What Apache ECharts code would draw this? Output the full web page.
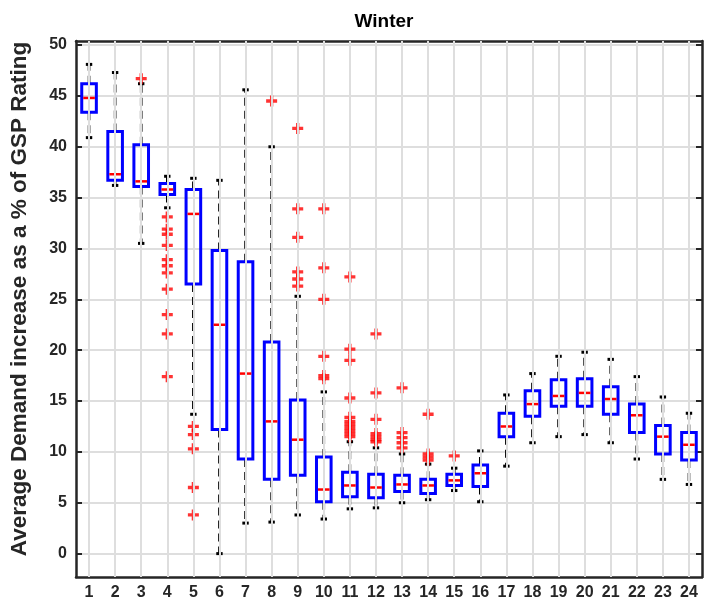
<!DOCTYPE html>
<html><head><meta charset="utf-8">
<script src="https://cdn.jsdelivr.net/npm/echarts@6/dist/echarts.min.js"></script>
<style>html,body{margin:0;padding:0;background:#fff}#c{width:709px;height:608px}</style>
</head><body><div id="c"></div>
<script>
const hours = ['1','2','3','4','5','6','7','8','9','10','11','12','13','14','15','16','17','18','19','20','21','22','23','24'];
const whiskerLow  = [40.9, 36.2, 30.5, 34.0, 13.7, 0.0, 3.0, 3.1, 3.8, 3.4, 4.4, 4.5, 5.0, 5.3, 6.2, 5.1, 8.6, 10.9, 11.5, 11.7, 10.9, 9.3, 7.3, 6.8];
const quart1      = [43.4, 36.7, 36.1, 35.3, 26.5, 12.2, 9.3, 7.3, 7.7, 5.1, 5.6, 5.5, 6.1, 5.9, 6.7, 6.6, 11.5, 13.5, 14.5, 14.5, 13.7, 11.9, 9.8, 9.2];
const medians     = [44.8, 37.3, 36.6, 35.8, 33.4, 22.5, 17.7, 13.0, 11.2, 6.3, 6.7, 6.5, 6.8, 6.7, 7.2, 7.9, 12.5, 14.7, 15.5, 15.8, 15.2, 13.6, 11.5, 10.7];
const quart3      = [46.2, 41.5, 40.2, 36.4, 35.8, 29.8, 28.7, 20.8, 15.1, 9.5, 8.0, 7.8, 7.7, 7.3, 7.8, 8.7, 13.8, 16.0, 17.1, 17.2, 16.4, 14.7, 12.6, 11.9];
const whiskerHigh = [48.1, 47.3, 46.2, 37.1, 36.9, 36.7, 45.6, 40.0, 25.3, 15.9, 11.0, 10.4, 9.8, 8.8, 8.4, 10.1, 15.6, 17.7, 19.4, 19.8, 19.1, 17.4, 15.4, 13.8];
const outliers = [
  [], [], [46.7],
  [33.1, 31.9, 31.4, 30.3, 28.9, 28.3, 27.6, 26.0, 23.5, 21.6, 17.4],
  [12.5, 11.7, 10.3, 6.5, 3.8],
  [], [], [44.5],
  [41.8, 33.9, 31.1, 27.7, 27.0, 26.3],
  [33.9, 28.1, 25.0, 19.4, 17.5, 17.2],
  [27.2, 20.1, 19.0, 15.3, 13.4, 13.0, 12.7, 12.4, 12.1, 11.8, 11.5],
  [21.6, 15.8, 13.2, 11.8, 11.5, 11.2, 11.0],
  [16.3, 11.9, 11.4, 10.9, 10.4],
  [13.7, 9.8, 9.5, 9.2],
  [9.6],
  [], [], [], [], [], [], [], [], []
];
const yTicks = [0, 5, 10, 15, 20, 25, 30, 35, 40, 45, 50];

const boxData = hours.map((h, i) => [i, whiskerLow[i], quart1[i], medians[i], quart3[i], whiskerHigh[i]]);
const outlierData = [];
outliers.forEach((arr, i) => arr.forEach(v => outlierData.push([i, v])));

const ink = '#262626';
const gridCol = '#dedede';
const FONT = 'Liberation Sans, Arial, sans-serif';

const chart = echarts.init(document.getElementById('c'));
chart.setOption({
  backgroundColor: '#fff',
  animation: false,
  title: {
    text: 'Winter', left: 379, top: 7, textAlign: 'center',
    textStyle: { fontSize: 19, fontWeight: 'bold', color: '#000', fontFamily: FONT }
  },
  grid: { left: 73, right: 7, top: 41, bottom: 31, containLabel: false },
  xAxis: [{
    type: 'category', data: hours, position: 'bottom', boundaryGap: true,
    axisLine: { show: true, onZero: false, lineStyle: { color: ink, width: 2.5 } },
    axisTick: { show: true, inside: true, alignWithLabel: true, length: 6, lineStyle: { color: ink, width: 2 } },
    axisLabel: { color: ink, fontSize: 16, fontWeight: 'bold', fontFamily: FONT, margin: 8, interval: 0 },
    splitLine: { show: false }
  }, {
    type: 'category', data: hours, position: 'top', boundaryGap: true,
    axisLine: { show: true, onZero: false, lineStyle: { color: ink, width: 2.5 } },
    axisTick: { show: true, inside: true, alignWithLabel: true, length: 6, lineStyle: { color: ink, width: 2 } },
    axisLabel: { show: false }, splitLine: { show: false }
  }],
  yAxis: [{
    type: 'value', min: -2.3, max: 50.4, splitNumber: 10, position: 'left',
    name: 'Average Demand increase as a % of GSP Rating', nameLocation: 'middle', nameGap: 45,
    nameTextStyle: { fontSize: 22.5, fontWeight: 'bold', color: ink, fontFamily: FONT, padding: [0, 0, 0, 20] },
    axisLine: { show: true, onZero: false, lineStyle: { color: ink, width: 2.5 } },
    axisTick: { show: true, inside: true, length: 6, lineStyle: { color: ink, width: 2 },
      customValues: yTicks },
    axisLabel: { color: ink, fontSize: 16, fontWeight: 'bold', fontFamily: FONT, margin: 9,
      customValues: yTicks },
    splitLine: { show: true, lineStyle: { color: gridCol, width: 2 }, customValues: yTicks }
  }, {
    type: 'value', min: -2.3, max: 50.4, splitNumber: 10, position: 'right',
    axisLine: { show: true, onZero: false, lineStyle: { color: ink, width: 2.5 } },
    axisTick: { show: true, inside: true, length: 6, lineStyle: { color: ink, width: 2 },
      customValues: yTicks },
    axisLabel: { show: false }, splitLine: { show: false }
  }],
  series: [{
    type: 'line', data: [], z: 1, silent: true,
    markLine: {
      silent: true, symbol: 'none', animation: false,
      label: { show: false },
      emphasis: { disabled: true },
      lineStyle: { color: gridCol, width: 2, type: 'solid', opacity: 1 },
      data: hours.map(h => ({ xAxis: h }))
    }
  }, {
    type: 'custom', z: 3, data: boxData,
    encode: { x: 0, y: [1, 2, 3, 4, 5] },
    renderItem: function (params, api) {
      const i = api.value(0);
      const lo = api.coord([i, api.value(1)]);
      const b1 = api.coord([i, api.value(2)]);
      const md = api.coord([i, api.value(3)]);
      const b3 = api.coord([i, api.value(4)]);
      const hi = api.coord([i, api.value(5)]);
      const band = api.size([1, 0])[0];
      const bw = band * 0.56;
      const cx = lo[0];
      const cap = 3.2;
      const dash = { stroke: '#000', lineWidth: 2.6, lineDash: [8, 5], fill: null };
      const solid = { stroke: '#000', lineWidth: 3, fill: null };
      return {
        type: 'group',
        children: [
          { type: 'line', shape: { x1: cx, y1: b3[1], x2: cx, y2: hi[1] }, style: dash },
          { type: 'line', shape: { x1: cx, y1: b1[1], x2: cx, y2: lo[1] }, style: dash },
          { type: 'line', shape: { x1: cx - cap, y1: hi[1], x2: cx + cap, y2: hi[1] }, style: solid },
          { type: 'line', shape: { x1: cx - cap, y1: lo[1], x2: cx + cap, y2: lo[1] }, style: solid },
          { type: 'rect', shape: { x: cx - bw / 2, y: b3[1], width: bw, height: b1[1] - b3[1] },
            style: { stroke: '#0000ff', lineWidth: 3, fill: null } },
          { type: 'line', shape: { x1: cx - bw / 2 + 1.5, y1: md[1], x2: cx + bw / 2 - 1.5, y2: md[1] },
            style: { stroke: '#ff0000', lineWidth: 2.5, fill: null } }
        ]
      };
    }
  }, {
    type: 'scatter', z: 4, data: outlierData,
    symbol: 'path://M3.5,0h3v3.5h3.5v3h-3.5v3.5h-3v-3.5h-3.5v-3h3.5z',
    symbolSize: 11,
    itemStyle: { color: '#ff0000' }
  }]
});
</script>
</body></html>
